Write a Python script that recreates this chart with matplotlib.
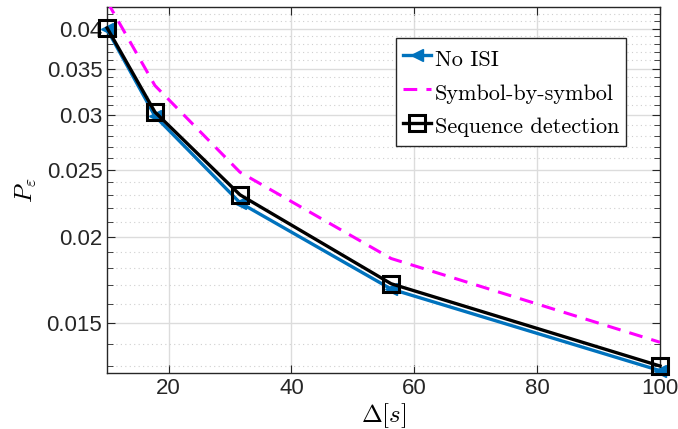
import numpy as np
import matplotlib
matplotlib.use("Agg")
import matplotlib.pyplot as plt
from matplotlib.ticker import FixedLocator, NullFormatter

plt.rcParams['font.family'] = ['Liberation Sans', 'DejaVu Sans']
plt.rcParams['mathtext.fontset'] = 'cm'

# data
delta = [10, 17.78, 31.62, 56.23, 100]
no_isi = [0.0399, 0.0299, 0.0224, 0.0168, 0.0128]
symbol_by_symbol = [0.0438, 0.0331, 0.0248, 0.0186, 0.01407]
sequence_detection = [0.0401, 0.0303, 0.0230, 0.0171, 0.0130]

yticks = [0.015, 0.02, 0.025, 0.03, 0.035, 0.04]
ytick_labels = ['0.015', '0.02', '0.025', '0.03', '0.035', '0.04']
xticks = [20, 40, 60, 80, 100]

fig = plt.figure(figsize=(6.78, 4.29), dpi=100)
ax = fig.add_axes([0.158, 0.1305, 0.8155, 0.8532])

ax.plot(delta, no_isi, color='#0072BD', lw=2.4, marker='<', ms=9,
        mfc='#0072BD', mec='#0072BD', label='No ISI', zorder=3, clip_on=False)
ax.plot(delta, symbol_by_symbol, color='#FF00FF', lw=2.2, ls=(0, (4.5, 3)),
        label='Symbol-by-symbol', zorder=3)
ax.plot(delta, sequence_detection, color='black', lw=2.4, marker='s', ms=12,
        mfc='none', mec='black', mew=2.2, label='Sequence detection',
        zorder=4, clip_on=False)

ax.set_yscale('log')
ax.set_xlim(10, 100)
ax.set_ylim(0.0127, 0.043)
ax.yaxis.set_major_locator(FixedLocator(yticks))
ax.set_yticklabels(ytick_labels)
minor = [v / 1000 for v in range(13, 44) if v not in (15, 20, 25, 30, 35, 40)]
ax.yaxis.set_minor_locator(FixedLocator(minor))
ax.yaxis.set_minor_formatter(NullFormatter())
ax.set_xticks(xticks)

ax.grid(True, which='major', color='#dcdcdc', lw=1.0, ls='-')
ax.grid(True, which='minor', axis='y', color='#cfcfcf', lw=0.8, ls=(0, (1, 3)))
ax.set_axisbelow(True)

ax.tick_params(which='both', direction='in', top=True, right=True,
               labelsize=16, colors='#262626', labelcolor='#262626')
ax.tick_params(which='major', length=6)
ax.tick_params(which='minor', length=4)
for s in ax.spines.values():
    s.set_color('#262626')
    s.set_linewidth(1.0)

ax.set_xlabel(r'$\Delta[s]$', fontsize=18, labelpad=2)
ax.set_ylabel(r'$P_\varepsilon$', fontsize=18, labelpad=6)

leg = ax.legend(loc='upper right', bbox_to_anchor=(0.923, 0.911),
                bbox_transform=fig.transFigure, borderaxespad=0,
                prop={'family': 'cmr10', 'size': 16}, handlelength=1.3,
                handleheight=1.5, handletextpad=0.15, labelspacing=0.3,
                borderpad=0.3, fancybox=False, framealpha=1)
leg.get_frame().set_edgecolor('#262626')
leg.get_frame().set_linewidth(1.0)

fig.savefig('out.png', dpi=100)
